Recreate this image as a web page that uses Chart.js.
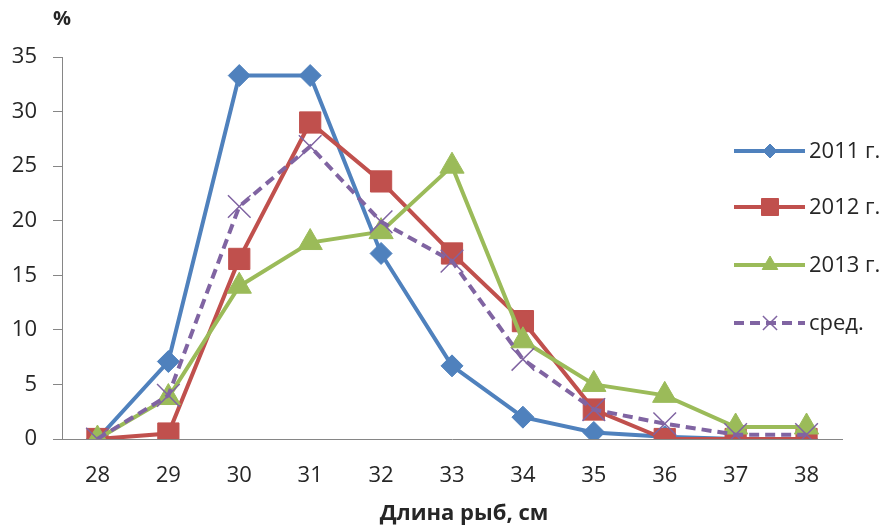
<!DOCTYPE html>
<html>
<head>
<meta charset="utf-8">
<script src="https://cdn.jsdelivr.net/npm/chart.js@4/dist/chart.umd.min.js"></script>
<style>
  html, body { margin: 0; padding: 0; background: #fff; }
  #wrap { width: 885px; height: 526px; position: relative; }
</style>
</head>
<body>
<div id="wrap"><canvas id="grafico" width="885" height="526"></canvas></div>
<script>
// Длина рыб (см)
var longitudes = ['28', '29', '30', '31', '32', '33', '34', '35', '36', '37', '38'];

// Porcentaje por año
var datos2011 = [0, 7.1, 33.3, 33.3, 17, 6.7, 2, 0.6, 0.2, 0, 0];
var datos2012 = [0, 0.5, 16.5, 29, 23.6, 17, 10.8, 2.7, 0, 0, 0];
var datos2013 = [0, 3.8, 14, 18, 19, 25, 9, 5, 4, 1.1, 1.1];
var datosMedia = [0, 4, 21.3, 26.8, 19.9, 16.3, 7.3, 2.7, 1.4, 0.4, 0.4];

var etiquetas = ['2011 г.', '2012 г.', '2013 г.', 'сред.'];
var ticksY = [0, 5, 10, 15, 20, 25, 30, 35];

var fuente = "'Open Sans', 'DejaVu Sans', sans-serif";
var colorTexto = '#262626';
var colorEje = '#868686';

// Leyenda y títulos dibujados a mano (línea + marcador como en Excel)
var pluginLeyenda = {
  id: 'leyenda',
  afterDraw: function(chart) {
    var ctx = chart.ctx;
    var ys = [151, 207, 265, 323];
    var tam = [7, 12, 9, 10];
    ctx.save();
    chart.data.datasets.forEach(function(ds, i) {
      var y = ys[i];
      ctx.strokeStyle = ds.borderColor;
      ctx.lineWidth = ds.borderWidth;
      ctx.setLineDash(ds.borderDash || []);
      ctx.beginPath();
      ctx.moveTo(734, y);
      ctx.lineTo(805, y);
      ctx.stroke();
      ctx.setLineDash([]);
      ctx.fillStyle = ds.pointBackgroundColor;
      ctx.strokeStyle = ds.pointBorderColor;
      ctx.lineWidth = ds.pointBorderWidth;
      Chart.helpers.drawPoint(ctx, {
        pointStyle: ds.pointStyle,
        radius: tam[i],
        rotation: 0,
        borderWidth: ds.pointBorderWidth
      }, 770, y);
      ctx.fillStyle = colorTexto;
      ctx.font = '22px ' + fuente;
      ctx.textAlign = 'left';
      ctx.textBaseline = 'middle';
      ctx.fillText(ds.label, 809, y + 1);
    });

    // "%" arriba del eje y
    ctx.font = 'bold 20px ' + fuente;
    ctx.textAlign = 'center';
    ctx.fillText('%', 62, 19);
    // título del eje x
    ctx.font = 'bold 22px ' + fuente;
    ctx.fillText('Длина рыб, см', 464, 514);
    ctx.restore();
  }
};

function serie(label, data, color, estilo, radio, extra) {
  var ds = {
    label: label,
    data: data,
    borderColor: color,
    backgroundColor: color,
    borderWidth: 4,
    pointStyle: estilo,
    pointRadius: radio,
    pointHoverRadius: radio,
    pointBackgroundColor: color,
    pointBorderColor: color,
    pointBorderWidth: 1,
    tension: 0
  };
  for (var k in extra) ds[k] = extra[k];
  return ds;
}

var ctx = document.getElementById('grafico').getContext('2d');

var config = {
  type: 'line',
  data: {
    labels: longitudes,
    datasets: [
      serie(etiquetas[0], datos2011, '#4F81BD', 'rectRot', 11, { order: 3 }),
      serie(etiquetas[1], datos2012, '#C0504D', 'rect', 15, { order: 2 }),
      serie(etiquetas[2], datos2013, '#9BBB59', 'triangle', 14, { order: 1 }),
      serie(etiquetas[3], datosMedia, '#8064A2', 'crossRot', 16, { order: 0, borderDash: [10, 6], pointBorderWidth: 1.5 })
    ]
  },
  options: {
    responsive: false,
    animation: false,
    layout: { padding: { left: 0, right: 43, top: 57, bottom: 0 } },
    plugins: {
      legend: { display: false },
      tooltip: { enabled: false },
      title: { display: false }
    },
    scales: {
      x: {
        offset: true,
        grid: { display: true, drawOnChartArea: false, drawTicks: false },
        border: { display: true, color: colorEje, width: 1 },
        ticks: {
          color: colorTexto,
          font: { family: fuente, size: 22 },
          padding: 24,
          maxRotation: 0,
          autoSkip: false
        },
        afterFit: function(scale) { scale.height = 87; }
      },
      y: {
        min: 0,
        max: 35,
        afterBuildTicks: function(scale) {
          scale.ticks = ticksY.map(function(v) { return { value: v }; });
        },
        grid: { display: true, drawOnChartArea: false, drawTicks: true, tickLength: 9, color: colorEje },
        border: { display: true, color: colorEje, width: 1 },
        ticks: {
          color: colorTexto,
          font: { family: fuente, size: 22 },
          padding: 16
        },
        afterFit: function(scale) { scale.width = 62; }
      }
    }
  },
  plugins: [pluginLeyenda]
};

var miGrafico = new Chart(ctx, config);
</script>
</body>
</html>
